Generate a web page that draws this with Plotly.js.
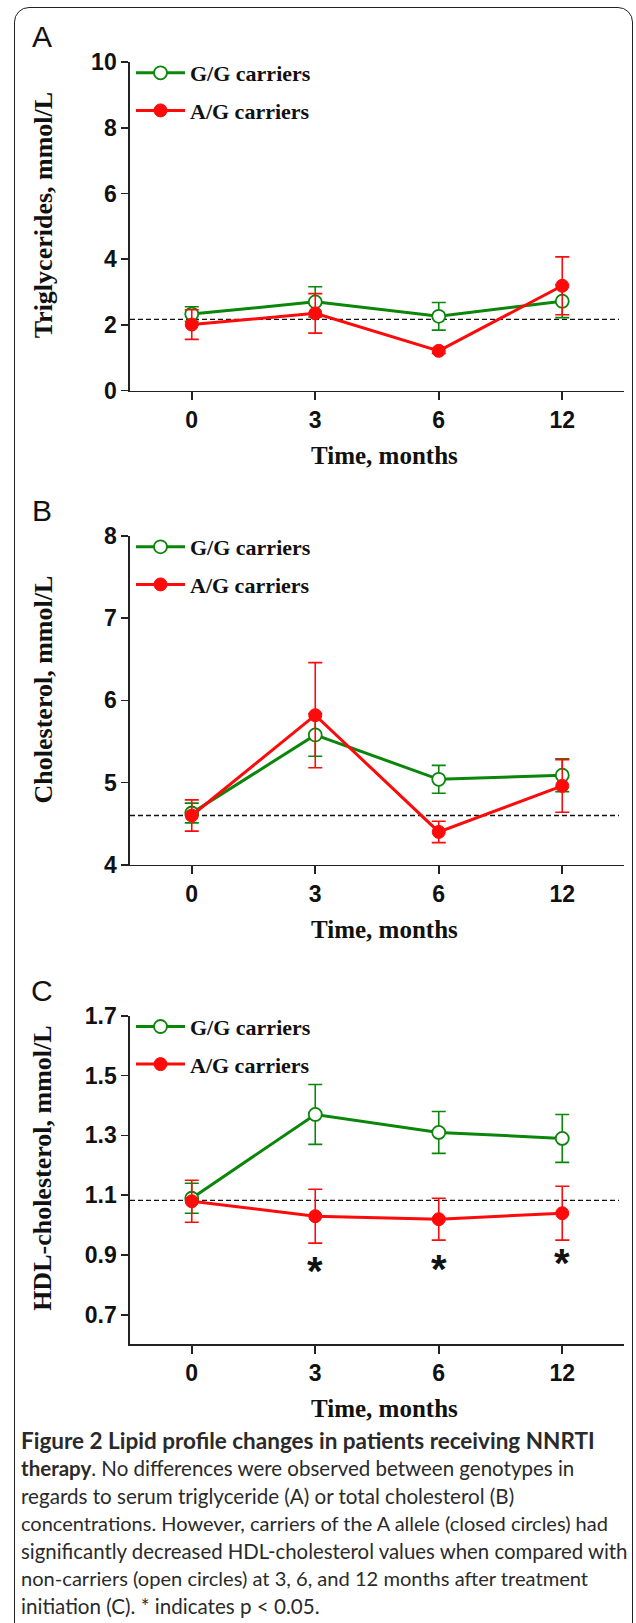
<!DOCTYPE html>
<html>
<head>
<meta charset="utf-8">
<script src="https://cdn.plot.ly/plotly-3.0.1.min.js"></script>
<style>
  html, body { margin: 0; padding: 0; background: #ffffff; overflow: hidden; }
  #frame { position: absolute; left: 14px; top: 7px; width: 619px; height: 1700px;
           border: 1.6px solid #222; border-radius: 15px; box-sizing: border-box; }
  #chart { position: absolute; left: 0; top: 0; width: 636px; height: 1623px; }
</style>
</head>
<body>
<div id="frame"></div>
<div id="chart"></div>
<script>
// ---------------- DATA ----------------
const months = ["0", "3", "6", "12"];

const tgGG    = [2.33, 2.70, 2.26, 2.72];
const tgGGerr = [0.22, 0.46, 0.42, 0.50];
const tgAG    = [2.01, 2.35, 1.21, 3.19];
const tgAGerr = [0.45, 0.60, 0.08, 0.88];

const chGG    = [4.63, 5.58, 5.04, 5.09];
const chGGerr = [0.12, 0.26, 0.17, 0.20];
const chAG    = [4.60, 5.82, 4.40, 4.96];
const chAGerr = [0.19, 0.64, 0.13, 0.32];

const hdlGG    = [1.09, 1.37, 1.31, 1.29];
const hdlGGerr = [0.05, 0.10, 0.07, 0.08];
const hdlAG    = [1.08, 1.03, 1.02, 1.04];
const hdlAGerr = [0.07, 0.09, 0.07, 0.09];

const baselines   = [2.17, 4.60, 1.083];
const significant = [false, true, true, true];

const seriesNames = ["G/G carriers", "A/G carriers"];
const panelLetters = ["A", "B", "C"];
const yTitles = ["Triglycerides, mmol/L", "Cholesterol, mmol/L", "HDL-cholesterol, mmol/L"];
const xTitle = "Time, months";
const captionLines = [
  "<b>Figure 2 Lipid profile changes in patients receiving NNRTI</b>",
  "<b>therapy</b>. No differences were observed between genotypes in",
  "regards to serum triglyceride (A) or total cholesterol (B)",
  "concentrations. However, carriers of the A allele (closed circles) had",
  "significantly decreased HDL-cholesterol values when compared with",
  "non-carriers (open circles) at 3, 6, and 12 months after treatment",
  "initiation (C). * indicates p &lt; 0.05."
];

// ---------------- LAYOUT HELPERS ----------------
const W = 636, H = 1623;
const L = 130, R = 624, T = 61.7, B = 1344.5;
const px = x => (x - L) / (R - L);
const py = y => (B - y) / (B - T);

const GREEN = '#0a860a', RED = '#ff0a0a', INK = '#111111';
const tickFont = { family: 'Liberation Sans, Arial, sans-serif', size: 23, weight: 'bold', color: INK };
const serifBold = (s) => ({ family: 'Liberation Serif, Times New Roman, serif', size: s, weight: 'bold', color: INK });

const panels = [
  { top: 61.7, bot: 390.5, range: [0, 10],     dtick: 2,   tick0: 0,   gg: tgGG,  gge: tgGGerr,  ag: tgAG,  age: tgAGerr },
  { top: 536,  bot: 865,   range: [4, 8],      dtick: 1,   tick0: 4,   gg: chGG,  gge: chGGerr,  ag: chAG,  age: chAGerr },
  { top: 1016, bot: 1344.5, range: [0.603, 1.7], dtick: 0.2, tick0: 0.7, gg: hdlGG, gge: hdlGGerr, ag: hdlAG, age: hdlAGerr }
];

const data = [];
const layout = {
  width: W, height: H,
  margin: { l: L, r: W - R, t: T, b: H - B, pad: 0 },
  paper_bgcolor: 'rgba(0,0,0,0)', plot_bgcolor: 'rgba(0,0,0,0)',
  showlegend: true,
  shapes: [], annotations: []
};

panels.forEach((p, i) => {
  const sfx = i === 0 ? '' : String(i + 1);
  const xa = 'x' + sfx, ya = 'y' + sfx;
  const legendId = 'legend' + sfx;

  data.push({
    type: 'scatter', mode: 'lines+markers', x: months, y: p.gg,
    xaxis: xa, yaxis: ya, name: seriesNames[0], legend: legendId, legendgroup: 'gg' + i,
    line: { color: GREEN, width: 3 },
    marker: { symbol: 'circle', size: 13, color: '#ffffff', line: { color: GREEN, width: 1.8 } },
    error_y: { type: 'data', array: p.gge, visible: true, color: GREEN, thickness: 1.6, width: 7 }
  });
  data.push({
    type: 'scatter', mode: 'lines+markers', x: months, y: p.ag,
    xaxis: xa, yaxis: ya, name: seriesNames[1], legend: legendId, legendgroup: 'ag' + i,
    line: { color: RED, width: 3 },
    marker: { symbol: 'circle', size: 13, color: RED, line: { color: RED, width: 1 } },
    error_y: { type: 'data', array: p.age, visible: true, color: RED, thickness: 1.6, width: 7 }
  });

  const dom = [py(p.bot), py(p.top)];
  layout['xaxis' + sfx] = {
    type: 'category', categoryorder: 'array', categoryarray: months,
    range: [-0.5, 3.5], domain: [0, 1], anchor: ya,
    showline: true, linecolor: '#222', linewidth: 1.7, mirror: false,
    showgrid: false, zeroline: false,
    ticks: 'outside', ticklen: 8, tickwidth: 1.7, tickcolor: '#222',
    tickfont: tickFont, fixedrange: true
  };
  layout['yaxis' + sfx] = {
    range: p.range, domain: dom, anchor: xa,
    tickmode: 'linear', tick0: p.tick0, dtick: p.dtick,
    showline: true, linecolor: '#222', linewidth: 1.7,
    showgrid: false, zeroline: false,
    ticks: 'outside', ticklen: 7, tickwidth: 1.7, tickcolor: '#222',
    tickfont: tickFont, fixedrange: true
  };

  layout[legendId] = {
    x: px(131), xanchor: 'left', y: py(p.top - 10), yanchor: 'top',
    bgcolor: 'rgba(0,0,0,0)', borderwidth: 0,
    font: serifBold(22), itemwidth: 49, tracegroupgap: 6, traceorder: 'grouped',
    itemclick: false, itemdoubleclick: false
  };

  layout.shapes.push({
    type: 'line', xref: xa + ' domain', yref: ya,
    x0: 0, x1: 0.99, y0: baselines[i], y1: baselines[i],
    line: { color: INK, width: 1.3, dash: '5px,3px' }, layer: 'below'
  });

  layout.annotations.push({
    xref: 'paper', yref: 'paper', x: px(42), y: py(p.top - 25.5), xanchor: 'center', yanchor: 'middle',
    text: panelLetters[i], showarrow: false,
    font: { family: 'Liberation Sans, Arial, sans-serif', size: 30, color: INK }
  });
  layout.annotations.push({
    xref: 'paper', yref: 'paper', x: px(43), y: py((p.top + p.bot) / 2 - 11), xanchor: 'center', yanchor: 'middle',
    text: yTitles[i], showarrow: false, textangle: -90, font: serifBold(26)
  });
  layout.annotations.push({
    xref: 'paper', yref: 'paper', x: px(384), y: py(p.bot + 65), xanchor: 'center', yanchor: 'middle',
    text: xTitle, showarrow: false, font: serifBold(25)
  });
});

// significance asterisks (panel C); x is the category index
const starY = [0, 0.855, 0.861, 0.882];
months.forEach((m, j) => {
  if (!significant[j]) return;
  layout.annotations.push({
    xref: 'x3', yref: 'y3', x: j, y: starY[j], xanchor: 'center', yanchor: 'middle', yshift: -2,
    text: '*', showarrow: false,
    font: { family: 'Liberation Sans, Arial, sans-serif', size: 40, weight: 'bold', color: INK }
  });
});

// caption
const capSizes = [22.5, 20.5, 20.6, 20.0, 20.4, 20.1, 20.6];
captionLines.forEach((ln, k) => {
  layout.annotations.push({
    xref: 'paper', yref: 'paper', x: px(19), y: py(1441 + k * 27.6), xanchor: 'left', yanchor: 'middle',
    text: ln, showarrow: false, align: 'left',
    font: { family: 'Lato, Open Sans, sans-serif', size: capSizes[k], color: '#2a2a2a' }
  });
});

Plotly.newPlot('chart', data, layout, { displayModeBar: false, staticPlot: true });
</script>
</body>
</html>
